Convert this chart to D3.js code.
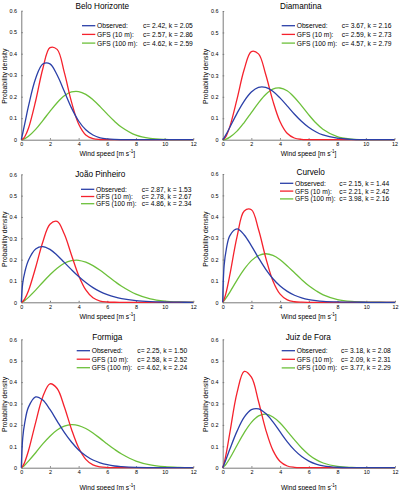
<!DOCTYPE html>
<html lang="en">
<head>
<meta charset="UTF-8">
<title>Weibull wind speed distributions</title>
<script src="https://d3js.org/d3.v7.min.js"></script>
<style>
  body { margin: 0; background: #fff; }
  svg { display: block; font-family: "Liberation Sans", Arial, sans-serif; }
  .axis path, .axis line { stroke: #7a7a7a; stroke-width: 1; }
  .axis text { fill: #000; font-size: 5.4px; font-family: "Liberation Sans", Arial, sans-serif; }
</style>
</head>
<body>
<div id="chart"></div>
<script>
// wind speed grid [m/s] the curves were read at
var windSpeed = [0, 0.1, 0.25, 0.5, 1, 1.5, 2, 2.5, 3, 3.5, 4, 4.5, 5, 5.5, 6, 6.5, 7, 8, 9, 10, 11, 12];

var stations = ["Belo Horizonte", "Diamantina", "João Pinheiro", "Curvelo", "Formiga", "Juiz de Fora"];
var seriesNames = ["Observed:", "GFS (10 m):", "GFS (100 m):"];
var seriesColors = ["#2b40a8", "#f5222d", "#6cc03a"];

var xTicks = [0, 2, 4, 6, 8, 10, 12];
var yTicks = [0, 0.1, 0.2, 0.3, 0.4, 0.5, 0.6];

// legend parameter labels per station (obs, 10 m, 100 m)
var paramsBH = ["c= 2.42, k = 2.05", "c= 2.57, k = 2.86", "c= 4.62, k = 2.59"];
var paramsDI = ["c= 3.67, k = 2.16", "c= 2.59, k = 2.73", "c= 4.57, k = 2.79"];
var paramsJP = ["c= 2.87, k = 1.53", "c= 2.78, k = 2.67", "c= 4.86, k = 2.34"];
var paramsCU = ["c= 2.15, k = 1.44", "c= 2.21, k = 2.42", "c= 3.98, k = 2.16"];
var paramsFO = ["c= 2.25, k = 1.50", "c= 2.58, k = 2.52", "c= 4.62, k = 2.24"];
var paramsJF = ["c= 3.18, k = 2.08", "c= 2.09, k = 2.31", "c= 3.77, k = 2.29"];

// probability density
var obsBH  = [0, 0.030, 0.077, 0.156, 0.285, 0.352, 0.353, 0.301, 0.225, 0.148, 0.087, 0.046, 0.022, 0.009, 0.0035, 0.0012, 0.0004, 0, 0, 0, 0, 0];
var g10BH  = [0, 0.003, 0.015, 0.053, 0.180, 0.330, 0.428, 0.420, 0.313, 0.176, 0.073, 0.022, 0.005, 0.0007, 0, 0, 0, 0, 0, 0, 0, 0];
var g100BH = [0, 0.001, 0.005, 0.016, 0.048, 0.089, 0.132, 0.172, 0.204, 0.222, 0.224, 0.211, 0.186, 0.154, 0.119, 0.086, 0.058, 0.021, 0.006, 0.001, 0.0001, 0];

var obsDI  = [0, 0.009, 0.026, 0.058, 0.123, 0.180, 0.222, 0.244, 0.244, 0.226, 0.195, 0.158, 0.120, 0.086, 0.058, 0.037, 0.022, 0.007, 0.0016, 0.0003, 0, 0];
var g10DI  = [0, 0.004, 0.018, 0.061, 0.189, 0.327, 0.411, 0.400, 0.305, 0.182, 0.085, 0.030, 0.008, 0.0016, 0.0002, 0, 0, 0, 0, 0, 0, 0];
var g100DI = [0, 0.0007, 0.003, 0.012, 0.040, 0.080, 0.126, 0.172, 0.211, 0.236, 0.241, 0.228, 0.198, 0.159, 0.117, 0.079, 0.049, 0.014, 0.003, 0.0003, 0, 0];

var obsJP  = [0, 0.090, 0.143, 0.197, 0.250, 0.261, 0.248, 0.221, 0.187, 0.153, 0.121, 0.093, 0.069, 0.050, 0.036, 0.025, 0.017, 0.0076, 0.0031, 0.0012, 0.0004, 0.0001];
var g10JP  = [0, 0.004, 0.017, 0.054, 0.163, 0.283, 0.366, 0.379, 0.320, 0.222, 0.126, 0.058, 0.021, 0.006, 0.0014, 0.0002, 0, 0, 0, 0, 0, 0];
var g100JP = [0, 0.003, 0.009, 0.023, 0.057, 0.094, 0.129, 0.160, 0.183, 0.195, 0.197, 0.188, 0.172, 0.150, 0.124, 0.099, 0.075, 0.038, 0.016, 0.0057, 0.0017, 0.0004];

var obsCU  = [0, 0.172, 0.248, 0.312, 0.343, 0.315, 0.264, 0.207, 0.154, 0.110, 0.076, 0.051, 0.033, 0.021, 0.013, 0.008, 0.0047, 0.0016, 0.0004, 0.0001, 0, 0];
var g10CU  = [0, 0.014, 0.049, 0.129, 0.307, 0.427, 0.433, 0.339, 0.208, 0.100, 0.038, 0.011, 0.0026, 0.0005, 0, 0, 0, 0, 0, 0, 0, 0];
var g100CU = [0, 0.008, 0.022, 0.048, 0.104, 0.155, 0.195, 0.219, 0.227, 0.219, 0.199, 0.170, 0.138, 0.106, 0.077, 0.054, 0.035, 0.013, 0.004, 0.001, 0.0002, 0];

var obsFO  = [0, 0.139, 0.214, 0.283, 0.331, 0.316, 0.272, 0.218, 0.165, 0.120, 0.083, 0.056, 0.036, 0.023, 0.014, 0.008, 0.005, 0.0015, 0.0005, 0.0001, 0, 0];
var g10FO  = [0, 0.007, 0.028, 0.079, 0.211, 0.332, 0.392, 0.370, 0.285, 0.180, 0.093, 0.039, 0.013, 0.0037, 0.0008, 0.0001, 0, 0, 0, 0, 0, 0];
var g100FO = [0, 0.004, 0.013, 0.031, 0.070, 0.111, 0.147, 0.176, 0.194, 0.201, 0.197, 0.183, 0.162, 0.137, 0.111, 0.086, 0.064, 0.031, 0.013, 0.0045, 0.0013, 0.0003];

var obsJF  = [0, 0.016, 0.042, 0.087, 0.171, 0.236, 0.271, 0.275, 0.253, 0.214, 0.167, 0.121, 0.082, 0.052, 0.031, 0.017, 0.009, 0.002, 0.0003, 0, 0, 0];
var g10JF  = [0, 0.021, 0.068, 0.164, 0.351, 0.450, 0.423, 0.308, 0.177, 0.081, 0.029, 0.008, 0.002, 0.0003, 0, 0, 0, 0, 0, 0, 0, 0];
var g100JF = [0, 0.006, 0.018, 0.044, 0.105, 0.164, 0.212, 0.242, 0.250, 0.237, 0.209, 0.170, 0.130, 0.092, 0.061, 0.038, 0.022, 0.006, 0.0012, 0.0001, 0, 0];

var curves = [[obsBH, g10BH, g100BH], [obsDI, g10DI, g100DI], [obsJP, g10JP, g100JP],
              [obsCU, g10CU, g100CU], [obsFO, g10FO, g100FO], [obsJF, g10JF, g100JF]];
var params = [paramsBH, paramsDI, paramsJP, paramsCU, paramsFO, paramsJF];

// panel placement (pixels)
var panels = [
  {l: 21.3,  t: 10.7,  r: 193.3, b: 139.7, tx: 102.3, ty: 9,     lx: 82,    ly: 25.7,  ls: 8.7, cx: 143,   xl: 155.5},
  {l: 222.7, t: 11,    r: 394.5, b: 139.7, tx: 300.8, ty: 9,     lx: 281.7, ly: 25.7,  ls: 8.7, cx: 341.7, xl: 155.5},
  {l: 21.3,  t: 174.3, r: 193.3, b: 302.3, tx: 100.3, ty: 176.5, lx: 81,    ly: 189.3, ls: 7.2, cx: 141.7, xl: 318.5},
  {l: 222.7, t: 174,   r: 395,   b: 302.3, tx: 310.7, ty: 175,   lx: 280,   ly: 183.3, ls: 7.8, cx: 339.3, xl: 318.5},
  {l: 21.3,  t: 339.3, r: 193.3, b: 467.7, tx: 107.3, ty: 340,   lx: 76.7,  ly: 350.7, ls: 8.5, cx: 137.3, xl: 489.5},
  {l: 222.7, t: 339.3, r: 395,   b: 467.7, tx: 308.3, ty: 340,   lx: 281.7, ly: 350.7, ls: 8.6, cx: 341,   xl: 489.5}
];

var svg = d3.select("#chart").append("svg")
  .attr("width", 399)
  .attr("height", 490);

panels.forEach(function(p, i) {
  var x = d3.scaleLinear().domain([0, 12]).range([p.l, p.r]);
  var y = d3.scaleLinear().domain([0, 0.6]).range([p.b, p.t]);

  svg.append("g")
    .attr("class", "axis")
    .attr("transform", "translate(0," + p.b + ")")
    .call(d3.axisBottom(x).tickValues(xTicks).tickSizeInner(-1.5).tickSizeOuter(0).tickPadding(2.8).tickFormat(d3.format("~g")));

  svg.append("g")
    .attr("class", "axis")
    .attr("transform", "translate(" + p.l + ",0)")
    .call(d3.axisLeft(y).tickValues(yTicks).tickSizeInner(-1.5).tickSizeOuter(0).tickPadding(4.3).tickFormat(d3.format("~g")));

  var line = d3.line()
    .x(function(d, j) { return x(windSpeed[j]); })
    .y(function(d) { return y(d); })
    .curve(d3.curveCatmullRom.alpha(0.5));

  // green drawn first, blue on top
  [2, 1, 0].forEach(function(s) {
    svg.append("path")
      .datum(curves[i][s])
      .attr("fill", "none")
      .attr("stroke", seriesColors[s])
      .attr("stroke-width", 1.3)
      .attr("d", line);
  });

  svg.append("text")
    .attr("x", p.tx).attr("y", p.ty)
    .attr("text-anchor", "middle")
    .attr("font-size", 8.2)
    .text(stations[i]);

  seriesNames.forEach(function(name, s) {
    var yy = p.ly + s * p.ls;
    svg.append("line")
      .attr("x1", p.lx).attr("x2", p.lx + 13.3)
      .attr("y1", yy).attr("y2", yy)
      .attr("stroke", seriesColors[s]).attr("stroke-width", 1.3);
    svg.append("text")
      .attr("x", p.lx + 15).attr("y", yy)
      .attr("dominant-baseline", "central")
      .attr("font-size", 6.7)
      .text(name);
    svg.append("text")
      .attr("x", p.cx).attr("y", yy)
      .attr("dominant-baseline", "central")
      .attr("font-size", 6.7)
      .text(params[i][s]);
  });

  var xl = svg.append("text")
    .attr("x", (p.l + p.r) / 2).attr("y", p.xl)
    .attr("text-anchor", "middle")
    .attr("font-size", 6.7);
  xl.append("tspan").text("Wind speed [m s");
  xl.append("tspan").attr("dy", -2.5).attr("font-size", 4.6).text("-1");
  xl.append("tspan").attr("dy", 2.5).text("]");

  var yx = p.l - 17.3;
  svg.append("text")
    .attr("transform", "translate(" + yx + "," + ((p.t + p.b) / 2 + 1) + ") rotate(-90)")
    .attr("text-anchor", "middle")
    .attr("dominant-baseline", "central")
    .attr("font-size", 6.8)
    .text("Probability density");
});
</script>
</body>
</html>
